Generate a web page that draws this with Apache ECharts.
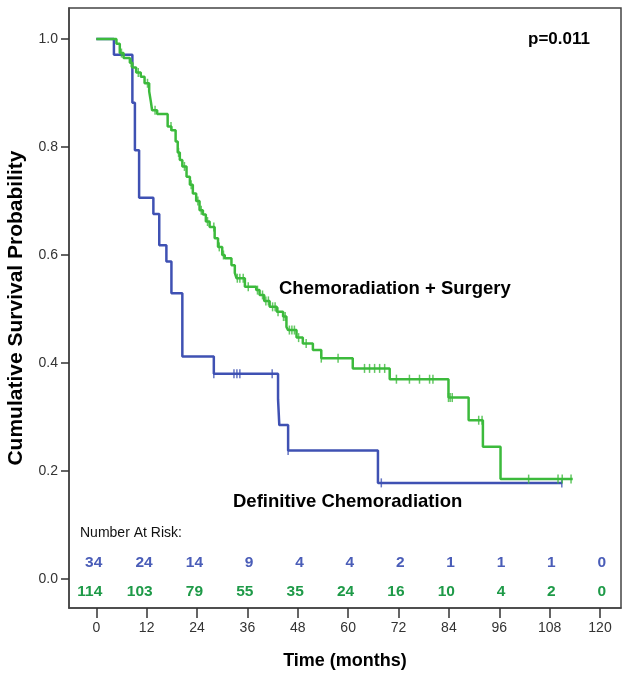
<!DOCTYPE html>
<html>
<head>
<meta charset="utf-8">
<script src="https://cdn.jsdelivr.net/npm/echarts@6/dist/echarts.min.js"></script>
<style>html,body{margin:0;padding:0;background:#fff}#c{width:639px;height:679px}</style>
</head>
<body>
<div id="c"></div>
<script>
// Kaplan-Meier step points: [time (months), survival]
var blueSteps = [[0,1.0],[4.2,0.971],[8.6,0.882],[9.2,0.794],[10.2,0.706],[13.6,0.676],[15.0,0.618],[16.7,0.588],[17.9,0.529],[20.5,0.412],[28.0,0.380],[43.3,0.333],[43.6,0.285],[45.7,0.238],[67.1,0.178],[111.0,0.178]];
var greenSteps = [[0,1.0],[4.8,0.991],[5.6,0.974],[6.5,0.965],[8.0,0.956],[8.6,0.947],[9.5,0.938],[10.6,0.930],[11.5,0.918],[12.6,0.903],[13.0,0.884],[13.3,0.868],[14.5,0.861],[17.0,0.838],[17.9,0.831],[18.9,0.810],[19.4,0.790],[19.9,0.776],[20.5,0.764],[21.5,0.745],[22.3,0.730],[23.0,0.714],[23.8,0.700],[24.6,0.683],[25.4,0.675],[26.1,0.662],[27.0,0.652],[28.2,0.631],[29.0,0.615],[30.0,0.600],[30.6,0.594],[32.2,0.581],[33.0,0.567],[33.4,0.557],[35.4,0.541],[38.1,0.535],[38.9,0.526],[40.0,0.515],[41.3,0.504],[43.0,0.495],[44.5,0.486],[45.3,0.467],[45.7,0.461],[47.7,0.447],[49.2,0.436],[51.6,0.424],[53.6,0.409],[61.1,0.390],[69.9,0.370],[83.9,0.336],[88.7,0.294],[92.1,0.245],[96.3,0.185],[113.5,0.185]];
// censoring times
var blueCensor = [28.0,32.8,33.5,34.2,41.9,45.7,67.9,110.9];
var greenCensor = [6.0,8.3,10.0,12.2,14.0,17.8,19.6,21.0,22.6,24.2,25.0,26.5,28.0,29.3,30.3,33.6,34.2,35.0,36.2,38.4,39.6,40.4,41.0,42.0,42.6,43.3,44.6,45.0,46.0,46.6,47.2,48.2,50.0,53.6,57.6,63.9,65.1,66.3,67.5,68.7,71.5,74.6,77.0,79.4,80.2,83.9,84.3,84.8,91.1,91.9,103.0,110.0,111.0,113.1];
// number at risk
var riskTimes = [0,12,24,36,48,60,72,84,96,108,120];
var riskBlue = [34,24,14,9,4,4,2,1,1,1,0];
var riskGreen = [114,103,79,55,35,24,16,10,4,2,0];
var xTicks = [0,12,24,36,48,60,72,84,96,108,120];
var yTicks = [0,0.2,0.4,0.6,0.8,1.0];

var BLUE = '#3f51b3', GREEN = '#3cba3c';
var BLUE_T = '#4a5db8', GREEN_T = '#1e9a48';
var FONT = 'Liberation Sans, Arial, sans-serif';

function survAt(steps, t) {
  var s = steps[0][1];
  for (var i = 0; i < steps.length; i++) { if (steps[i][0] <= t) s = steps[i][1]; }
  return s;
}
function censorData(steps, times) { return times.map(function (t) { return [t, survAt(steps, t)]; }); }

var chart = echarts.init(document.getElementById('c'), null, {renderer: 'canvas'});
function riskSeries(vals, yv, color) {
  return {
    type: 'custom', silent: true, z: 5, clip: false,
    data: riskTimes.map(function (t, i) { return [t, yv, vals[i]]; }),
    renderItem: function (params, api) {
      var p = api.coord([api.value(0), api.value(1)]);
      return {type: 'text', x: p[0] + 6, y: p[1], style: {text: String(api.value(2)), fill: color, font: 'bold 15.5px ' + FONT, align: 'right', verticalAlign: 'middle'}};
    }
  };
}
var option = {
  animation: false,
  backgroundColor: '#fff',
  grid: {left: 69, top: 8, right: 18, bottom: 71, show: true, borderColor: '#444', borderWidth: 1.5, containLabel: false, outerBoundsMode: 'none'},
  xAxis: {
    type: 'value', min: -6.5, max: 125,
    name: 'Time (months)', nameLocation: 'middle', nameGap: 44,
    nameTextStyle: {fontFamily: FONT, fontWeight: 'bold', fontSize: 18, color: '#000'},
    axisLine: {show: true, onZero: false, lineStyle: {color: '#444', width: 1.5}},
    axisTick: {show: true, inside: false, length: 10, customValues: xTicks, lineStyle: {color: '#333', width: 1.5}},
    axisLabel: {customValues: xTicks, fontFamily: FONT, fontSize: 14, color: '#333', margin: 13},
    splitLine: {show: false}
  },
  yAxis: {
    type: 'value', min: -0.0537, max: 1.0574,
    name: 'Cumulative Survival Probability', nameLocation: 'middle', nameGap: 42,
    nameTextStyle: {fontFamily: FONT, fontWeight: 'bold', fontSize: 21, color: '#000'},
    axisLine: {show: true, onZero: false, lineStyle: {color: '#444', width: 1.5}},
    axisTick: {show: true, inside: false, length: 8, customValues: yTicks, lineStyle: {color: '#333', width: 1.5}},
    axisLabel: {customValues: yTicks, fontFamily: FONT, fontSize: 14, color: '#333', margin: 11, formatter: function (v) { return v.toFixed(1); }},
    splitLine: {show: false}
  },
  series: [
    {type: 'line', step: 'end', data: blueSteps, showSymbol: false, lineStyle: {color: BLUE, width: 2.5}, z: 3},
    {type: 'line', step: 'end', data: greenSteps, showSymbol: false, lineStyle: {color: GREEN, width: 2.5}, z: 4},
    {type: 'scatter', data: censorData(blueSteps, blueCensor), symbol: 'rect', symbolSize: [1.5, 9], itemStyle: {color: BLUE}, z: 3},
    {type: 'scatter', data: censorData(greenSteps, greenCensor), symbol: 'rect', symbolSize: [1.5, 9], itemStyle: {color: GREEN}, z: 4},
    riskSeries(riskBlue, 0.0296, BLUE_T),
    riskSeries(riskGreen, -0.024, GREEN_T)
  ],
  graphic: [
    {type: 'text', left: 80, top: 526, style: {text: 'Number At Risk:', font: '14px ' + FONT, fill: '#111'}},
    {type: 'text', left: 528, top: 31, style: {text: 'p=0.011', font: 'bold 17px ' + FONT, fill: '#000'}},
    {type: 'text', left: 279, top: 279, style: {text: 'Chemoradiation + Surgery', font: 'bold 18.5px ' + FONT, fill: '#000'}},
    {type: 'text', left: 233, top: 492, style: {text: 'Definitive Chemoradiation', font: 'bold 18.5px ' + FONT, fill: '#000'}}
  ]
};
chart.setOption(option);
</script>
</body>
</html>
